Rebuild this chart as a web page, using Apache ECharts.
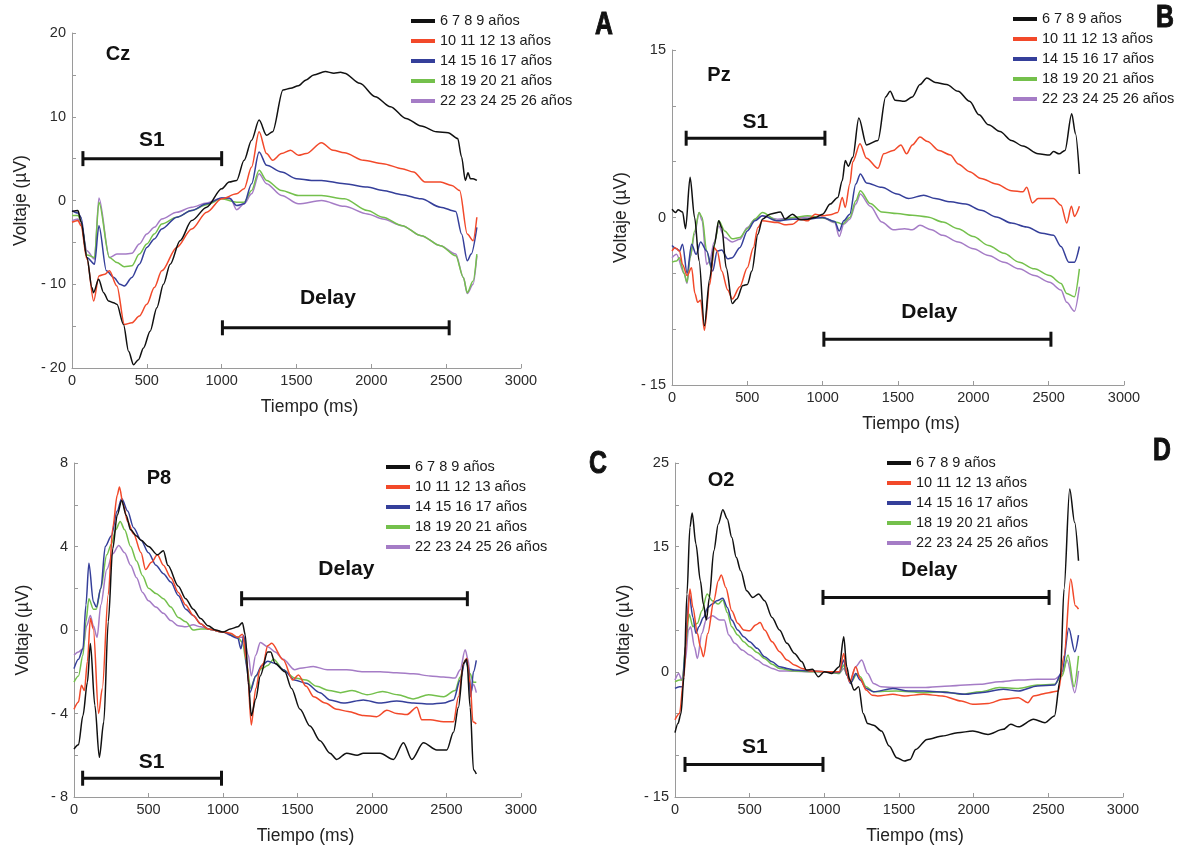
<!DOCTYPE html>
<html>
<head>
<meta charset="utf-8">
<script src="https://cdn.jsdelivr.net/npm/echarts@6/dist/echarts.min.js"></script>
<style>
  html, body { margin: 0; padding: 0; background: #ffffff; }
  #chart { width: 1197px; height: 850px; }
</style>
</head>
<body>
<div id="chart"></div>
<script>
// Age groups (legend order)
const groupNames = ['6 7 8 9 años', '10 11 12 13 años', '14 15 16 17 años', '18 19 20 21 años', '22 23 24 25 26 años'];

// Voltage tick labels shown on each panel (µV)
const czVoltLabels = [-20, -10, 0, 10, 20];
const pzVoltLabels = [-15, 0, 15];
const p8VoltLabels = [-8, -4, 0, 4, 8];
const o2VoltLabels = [-15, 0, 15, 25];

// Grand-average ERPs, [time ms, voltage µV]
// --- Cz ---
const czAge6to9 = [[0,-1.3],[40,-1.2],[60,-2.5],[100,-6.8],[133,-10.4],[144,-11],[178,-9.4],[211,-11],[244,-12],[278,-12.2],[300,-12.4],[344,-14.8],[378,-18],[411,-19.6],[444,-19],[478,-17.6],[522,-15.6],[567,-12.8],[611,-10],[656,-7.6],[722,-4.8],[800,-2.4],[900,-0.8],[1000,1.4],[1050,2.2],[1100,2.4],[1150,4.8],[1200,7.2],[1250,9.6],[1300,7.8],[1340,8.2],[1410,13.2],[1460,13.4],[1513,13.7],[1564,14.4],[1615,15],[1692,15.4],[1750,15.2],[1795,15.3],[1820,15.2],[1923,14],[2026,12.4],[2128,11.2],[2231,9.8],[2333,8.9],[2436,8.2],[2513,8.1],[2577,7.4],[2603,5.2],[2628,2.4],[2646,3.3],[2662,2.6],[2680,2.6],[2705,2.4]];
const czAge10to13 = [[0,-2.6],[40,-2.4],[60,-3],[100,-7],[145,-12],[180,-9],[220,-8.8],[250,-8.4],[300,-10.2],[350,-14.8],[400,-14.6],[450,-13.8],[500,-12.4],[550,-10.4],[600,-8.4],[700,-5.6],[800,-3.4],[900,-1.4],[1000,0.2],[1100,0.8],[1150,1.4],[1200,4],[1250,8.2],[1300,5.6],[1340,4.8],[1400,5.6],[1460,6],[1513,5.4],[1564,5.6],[1667,6.9],[1744,6],[1820,5.7],[1949,4.8],[2077,4.4],[2205,3.8],[2282,3.4],[2359,2.2],[2462,2.2],[2538,1.8],[2590,1.2],[2641,-4],[2680,-4.8],[2705,-2]];
const czAge14to17 = [[0,-1.2],[40,-1.5],[60,-2],[100,-6.8],[150,-7.6],[180,-3],[230,-8.4],[280,-9.2],[320,-10],[350,-10.2],[400,-9.2],[450,-7.6],[500,-5.6],[550,-4.6],[600,-3.4],[700,-2],[800,-1.2],[900,-0.4],[1000,0.3],[1050,0.3],[1100,-0.6],[1150,-0.4],[1200,2],[1250,5.8],[1300,4.2],[1400,3.4],[1500,2.6],[1600,2.4],[1667,2.4],[1820,2],[1974,1.6],[2077,1.2],[2205,0.7],[2333,0.2],[2462,-0.8],[2564,-1.3],[2603,-4],[2641,-7.2],[2667,-6.4],[2705,-3.2]];
const czAge18to21 = [[0,-1.8],[40,-1.8],[60,-2.5],[100,-6.5],[150,-6.8],[180,-0.2],[250,-6.8],[300,-7.4],[350,-7.9],[400,-7.8],[450,-6.4],[500,-5.2],[550,-4],[600,-2.8],[700,-2],[800,-1.2],[900,-0.5],[1000,0.2],[1100,-0.2],[1150,-0.2],[1200,1.2],[1250,3.6],[1300,2.4],[1400,1.2],[1513,0.6],[1667,0.6],[1820,0.2],[1974,-1.2],[2077,-2],[2205,-3],[2333,-4.2],[2462,-5.4],[2564,-6.6],[2615,-9.2],[2641,-11],[2680,-9.6],[2705,-6.4]];
const czAge22to26 = [[0,-2.4],[40,-2.2],[60,-2.8],[100,-6],[150,-7],[180,0.3],[250,-6.8],[300,-6.4],[350,-6.4],[400,-6.3],[450,-5.2],[500,-4],[550,-3.2],[600,-2.2],[700,-1.4],[800,-0.8],[900,-0.3],[1000,0.3],[1060,0.2],[1100,-1.1],[1150,-0.4],[1200,0.8],[1250,3.2],[1300,2],[1400,0.6],[1513,-0.4],[1667,0],[1820,-0.7],[1974,-1.6],[2077,-2.2],[2205,-3],[2333,-4.2],[2462,-5.4],[2564,-6.4],[2615,-9.2],[2641,-11.1],[2680,-10],[2705,-6.6]];

// --- Pz ---
const pzAge6to9 = [[0,0.74],[25,0.45],[40,0.7],[70,0.5],[90,-1],[120,3.6],[150,0],[180,-3.9],[215,-9.7],[250,-5.5],[280,-2.5],[310,-0.3],[330,-0.9],[360,-4.5],[400,-7.7],[430,-7.3],[470,-6.1],[500,-6],[530,-4.8],[570,-1.5],[600,-0.15],[650,0.3],[720,0.5],[750,-0.15],[800,0.3],[850,-0.2],[900,-0.15],[950,0],[1000,0.3],[1050,1.2],[1100,1.8],[1130,3.3],[1150,5.1],[1170,4.6],[1200,5.4],[1240,8.9],[1291,6.5],[1367,6.9],[1418,10.8],[1448,11.3],[1481,10.5],[1544,10.4],[1595,10.8],[1646,11.9],[1691,12.5],[1747,12.1],[1823,11.9],[1899,11.3],[1975,10.4],[2038,9.2],[2101,8.3],[2177,7.7],[2253,6.9],[2329,6.4],[2430,5.7],[2506,5.6],[2532,5.9],[2570,5.7],[2608,6],[2653,9.3],[2678,7.5],[2704,3.9]];
const pzAge10to13 = [[0,-3],[20,-2.7],[50,-3],[70,-4.2],[100,-5.2],[130,-4.5],[152,-6.8],[170,-7.6],[190,-7.4],[215,-10.1],[250,-6],[280,-2.7],[300,-3],[330,-4.8],[370,-6.5],[400,-7.3],[450,-6.2],[500,-4.5],[540,-2.7],[570,-0.9],[600,-0.3],[700,-0.45],[750,-0.65],[800,-0.6],[850,-0.15],[900,-0.3],[950,0.3],[1000,0.15],[1050,0.25],[1100,0.45],[1130,1.8],[1150,0.9],[1180,3],[1200,5],[1248,6.6],[1291,5.3],[1367,4.4],[1405,5.7],[1468,6],[1519,6.5],[1557,5.7],[1595,6.5],[1646,7.2],[1696,6.8],[1772,6],[1848,5.6],[1899,4.8],[1975,4.1],[2051,3.5],[2152,3],[2253,2.4],[2329,2.3],[2354,2.7],[2392,1.3],[2430,1.7],[2532,1.7],[2582,1.1],[2620,-0.5],[2651,1],[2671,0.1],[2704,1]];
const pzAge14to17 = [[0,-2.5],[30,-2.8],[50,-3],[70,-2.4],[100,-5],[130,-2.4],[160,-3.3],[190,-2.2],[230,-3],[270,-4.8],[300,-3],[330,-2.9],[370,-3.7],[400,-3.6],[450,-2.7],[500,-1.2],[550,-0.3],[600,0.15],[700,-0.3],[800,-0.15],[900,-0.15],[1000,0],[1080,-0.35],[1110,-1.2],[1140,-0.3],[1180,0.3],[1220,3],[1250,3.9],[1291,3.1],[1392,2.7],[1494,2.1],[1570,1.7],[1671,2],[1747,1.7],[1848,1.4],[1949,1.2],[2051,0.65],[2152,0.05],[2253,-0.5],[2354,-0.85],[2456,-1.4],[2532,-1.6],[2582,-2.6],[2633,-4],[2671,-4],[2704,-2.6]];
const pzAge18to21 = [[0,-4],[30,-3.9],[50,-3.6],[80,-5],[100,-5.8],[120,-3.6],[150,-1.2],[180,0.45],[200,0],[230,-3],[260,-4.5],[290,-1.9],[310,-0.3],[350,-1.2],[400,-1.9],[450,-1.8],[500,-1],[550,-0.15],[600,0.45],[700,-0.3],[800,0],[900,0.15],[1000,-0.05],[1100,-0.45],[1130,-0.6],[1180,0],[1220,1.5],[1250,2.4],[1316,1.25],[1392,0.5],[1494,0.35],[1595,0.2],[1696,0.05],[1797,-0.4],[1899,-1],[2000,-1.7],[2101,-2.5],[2203,-3.2],[2304,-4],[2405,-4.6],[2506,-5.2],[2582,-5.9],[2620,-6.8],[2671,-7.1],[2704,-4.6]];
const pzAge22to26 = [[0,-3.6],[30,-3.3],[80,-5],[100,-5.9],[120,-3.6],[150,-1.5],[180,0.45],[200,-0.3],[230,-4.2],[250,-3.9],[280,-2.2],[310,-0.75],[350,-1.8],[400,-2.2],[450,-1.95],[500,-0.9],[550,-0.15],[600,0.15],[700,-0.15],[800,-0.05],[900,0.05],[1000,0],[1080,-0.45],[1110,-1.7],[1140,-0.6],[1180,-0.15],[1220,1.2],[1250,2.1],[1316,1],[1392,-0.4],[1468,-1.1],[1544,-1],[1595,-1.1],[1646,-0.7],[1722,-1.1],[1797,-1.6],[1899,-2.2],[2000,-2.8],[2101,-3.4],[2203,-4],[2304,-4.6],[2405,-5.2],[2506,-5.8],[2582,-6.5],[2620,-7.6],[2671,-8.4],[2704,-6.2]];

// --- P8 ---
const p8Age6to9 = [[0,-5.7],[30,-5.5],[60,-4.1],[90,-2.5],[110,-0.65],[140,-3.6],[170,-6.1],[200,-4.4],[230,0.4],[260,3.9],[290,5.5],[320,6.2],[350,5.5],[380,4.8],[420,4.5],[450,4.3],[500,4],[560,3.6],[600,3.8],[630,3.1],[700,2.1],[750,1.5],[800,1],[850,0.55],[900,0.2],[950,0],[1000,-0.1],[1050,0.05],[1100,0.15],[1130,0.35],[1150,-0.25],[1170,-2.5],[1190,-4.1],[1220,-3.3],[1250,-2.2],[1300,-1.05],[1320,-1.05],[1350,-1.6],[1415,-2],[1460,-2.8],[1517,-3.8],[1584,-4.6],[1651,-5.3],[1718,-5.9],[1763,-6.2],[1830,-5.9],[1900,-6],[1942,-5.9],[2054,-5.9],[2144,-6.2],[2211,-5.4],[2267,-6.2],[2345,-5.4],[2435,-5.75],[2502,-5.75],[2547,-4.9],[2580,-3.7],[2614,-1.6],[2636,-1.4],[2659,-3.7],[2681,-6.7],[2700,-6.9]];
const p8Age10to13 = [[0,-3.8],[30,-3.45],[50,-2.65],[70,-2.9],[90,-1.5],[110,0.55],[130,0.05],[165,-4],[190,-2.8],[230,1.7],[260,4.9],[290,6.45],[305,6.85],[330,6],[360,5.2],[400,4.6],[450,3.7],[480,2.9],[520,3.25],[560,3.6],[600,3.1],[650,2.5],[700,1.8],[750,1.2],[800,0.7],[850,0.3],[900,0.05],[1000,-0.1],[1050,-0.15],[1100,-0.35],[1130,-0.2],[1160,-1.5],[1190,-4.55],[1220,-2.8],[1250,-1.85],[1270,-1.6],[1300,-0.75],[1327,-0.64],[1404,-1.43],[1468,-2.4],[1506,-2.15],[1558,-2.7],[1609,-3.2],[1686,-3.5],[1763,-3.8],[1840,-3.9],[1943,-4.1],[2032,-4.15],[2100,-3.85],[2166,-4],[2234,-4.05],[2301,-3.7],[2334,-4.3],[2390,-4.3],[2480,-4.4],[2547,-4.4],[2580,-3.2],[2614,-1.6],[2636,-1.35],[2659,-2.55],[2677,-4.4],[2700,-4.5]];
const p8Age14to17 = [[0,-1.85],[30,-1.4],[60,-0.9],[80,1.2],[100,3.2],[130,1.35],[150,1.1],[180,2],[210,4],[250,4.5],[290,5.7],[320,6.3],[360,5.7],[400,4.9],[450,4.3],[500,3.7],[550,3.1],[600,2.7],[650,2.3],[700,1.65],[750,1],[800,0.7],[850,0.3],[900,0.05],[1000,-0.1],[1100,-0.4],[1120,-0.9],[1140,-0.25],[1160,-1.85],[1180,-3],[1220,-2.2],[1260,-1.7],[1300,-1.5],[1350,-1.6],[1404,-1.9],[1481,-2.4],[1558,-2.55],[1651,-3],[1718,-3.35],[1808,-3.5],[1942,-3.35],[2054,-3.5],[2166,-3.4],[2278,-3.5],[2390,-3.55],[2480,-3.5],[2547,-3.35],[2592,-2.4],[2625,-1.45],[2648,-1.75],[2662,-3.2],[2681,-2],[2700,-1.45]];
const p8Age18to21 = [[0,-2.5],[30,-2.2],[60,-1.2],[80,0.4],[100,1.5],[130,1],[150,1],[180,2],[220,3.6],[250,4.1],[280,4.8],[310,5.2],[340,4.8],[380,4],[420,3.3],[460,2.6],[500,2],[550,1.75],[600,1.5],[650,1.1],[700,0.6],[750,0.4],[800,0],[850,0.05],[900,0.05],[1000,-0.1],[1100,-0.35],[1130,-0.6],[1160,-1.7],[1185,-2.8],[1220,-2.2],[1260,-1.85],[1300,-1.7],[1340,-1.4],[1404,-1.9],[1481,-2.3],[1558,-2.4],[1629,-2.7],[1712,-2.9],[1789,-3],[1866,-2.9],[1968,-3.1],[2071,-2.95],[2173,-3.1],[2276,-3.3],[2379,-3.1],[2481,-3.2],[2558,-2.9],[2592,-2.25],[2625,-1.45],[2659,-2.1],[2681,-2.5],[2700,-2.5]];
const p8Age22to26 = [[0,-1.2],[30,-1.05],[60,-0.9],[85,0.2],[110,0.7],[130,0.2],[155,-0.35],[180,1.2],[220,2.9],[260,3.65],[300,4.05],[340,3.7],[380,3.1],[420,2.5],[460,1.8],[500,1.4],[550,1.1],[600,0.8],[650,0.45],[700,0.2],[750,0.15],[800,0.25],[850,0.15],[900,0.05],[1000,-0.1],[1050,-0.25],[1100,-0.35],[1140,-0.35],[1170,-1.2],[1190,-2.2],[1220,-1.2],[1250,-0.6],[1300,-0.8],[1350,-1.05],[1404,-1.4],[1481,-1.9],[1517,-1.83],[1606,-1.75],[1700,-1.9],[1830,-1.9],[1942,-2],[2054,-2],[2166,-2.05],[2278,-2.1],[2390,-2.2],[2480,-2.25],[2558,-2.3],[2592,-1.9],[2625,-0.95],[2648,-1.5],[2662,-3],[2681,-2.6],[2700,-3]];

// --- O2 ---
const o2Age6to9 = [[0,-7.3],[20,-6.2],[40,-5],[60,-0.6],[80,9.3],[100,17.3],[115,19],[140,15.3],[170,10.9],[190,8.1],[210,6.2],[230,8.9],[260,14.5],[290,17.7],[320,19.4],[350,18.3],[380,16.1],[410,13.7],[440,12.1],[480,9.7],[520,8.9],[560,9.3],[600,8.5],[650,6.5],[700,5],[750,3.4],[800,2.2],[850,1.2],[880,0.2],[920,0.3],[960,-0.6],[1000,0],[1050,-0.2],[1100,0.6],[1130,4.2],[1150,0.6],[1170,-1],[1200,-2.2],[1230,-1.8],[1260,-5],[1290,-6.2],[1330,-6.4],[1383,-7.1],[1434,-8.9],[1485,-10.3],[1536,-10.7],[1574,-10.5],[1612,-9.3],[1688,-8.1],[1790,-7.7],[1892,-7.3],[1994,-7.1],[2096,-7.5],[2198,-6.9],[2248,-6.3],[2300,-6.6],[2401,-5.7],[2478,-6.1],[2541,-5.3],[2580,-0.9],[2605,9.9],[2643,21.9],[2676,17.9],[2702,13.3]];
const o2Age10to13 = [[0,-5.75],[30,-5],[60,-0.6],[80,5.4],[100,9.9],[120,7.7],[150,4.6],[170,3],[190,1.8],[220,4.6],[260,8.5],[290,10.9],[310,11.6],[340,10.1],[380,7.3],[420,5.8],[460,5],[500,4.9],[540,5.6],[570,5.9],[600,5],[650,3.6],[700,2.4],[750,1.4],[800,0.8],[850,0.4],[900,0.1],[1000,0],[1100,0],[1130,2.2],[1150,-0.2],[1170,-1.2],[1210,0.6],[1240,-0.8],[1280,-2.2],[1320,-2.8],[1357,-2.9],[1459,-2.7],[1536,-2.9],[1663,-2.7],[1790,-2.9],[1917,-3.5],[1994,-3.9],[2096,-3.8],[2198,-3.3],[2299,-3.1],[2363,-3.7],[2401,-2.9],[2503,-2.5],[2567,-2.3],[2605,1.9],[2650,11.1],[2681,7.9],[2702,7.5]];
const o2Age14to17 = [[0,-2],[30,-1.8],[50,-1.8],[70,3],[95,9.3],[120,6.5],[140,4.6],[160,5.4],[190,6.5],[220,7.7],[250,8.1],[280,8.5],[320,8.8],[350,7.7],[380,6.2],[420,5],[460,4.2],[500,3.6],[550,2.8],[600,1.8],[650,1.2],[700,0.6],[750,0.4],[800,0.2],[900,0.1],[1000,0],[1100,-0.1],[1130,1.4],[1150,-0.4],[1175,-1.4],[1210,-0.2],[1240,-1],[1280,-2],[1330,-2.4],[1459,-2],[1563,-2.3],[1663,-2.3],[1841,-2.5],[1943,-2.7],[2045,-2.5],[2198,-2.1],[2299,-2.3],[2427,-1.7],[2541,-1.6],[2592,0],[2637,5.2],[2677,2.4],[2702,4.4]];
const o2Age18to21 = [[0,-1.2],[30,-1],[50,-1],[70,3],[95,6.9],[120,5.4],[150,5.8],[180,7.3],[215,9.3],[250,8.5],[290,8.1],[320,8.6],[350,7.1],[380,5.4],[420,4.4],[460,3.6],[500,3],[550,2.3],[600,1.6],[650,0.9],[700,0.4],[800,0.1],[900,0],[1000,0],[1100,-0.2],[1130,0.8],[1150,-0.4],[1180,-1.2],[1220,-0.2],[1240,-0.6],[1280,-1.8],[1330,-2.4],[1480,-2.3],[1663,-2.5],[1800,-2.4],[1917,-2.7],[2045,-2.4],[2172,-1.9],[2299,-2],[2427,-1.6],[2541,-1.5],[2592,-0.5],[2632,2],[2672,-1.8],[2702,1.9]];
const o2Age22to26 = [[0,-1],[25,-0.2],[45,-1],[70,1.4],[90,5],[105,5.4],[130,3],[150,1.6],[180,4.6],[210,6.3],[250,6.7],[300,6.2],[330,6.2],[360,4.4],[400,3.4],[450,2.6],[500,2],[550,1.4],[600,0.8],[650,0.4],[700,0.1],[800,0.05],[900,0],[1000,0],[1100,-0.2],[1130,0.4],[1150,-0.2],[1175,-1],[1210,0.6],[1250,1.4],[1290,-0.2],[1330,-1.4],[1380,-1.8],[1485,-1.9],[1663,-1.9],[1841,-1.7],[2045,-1.5],[2172,-1.2],[2299,-1],[2427,-0.9],[2541,-0.9],[2592,-0.3],[2625,1.4],[2677,-2.5],[2702,0.1]];

// Task epochs, [start ms, end ms]
const czS1 = [73, 1000];   const czDelay = [1005, 2520];
const pzS1 = [94, 1015];   const pzDelay = [1008, 2515];
const p8S1 = [58, 990];    const p8Delay = [1125, 2640];
const o2S1 = [67, 991];    const o2Delay = [991, 2505];

// ---------- layout & styling ----------
const FONT = '"Liberation Sans", Arial, Helvetica, sans-serif';
const groupColors = ['#111111', '#f2492a', '#353f9a', '#74c04c', '#a57cc6'];

const panels = [
  { electrode: 'Cz', letter: 'A', series: [czAge6to9, czAge10to13, czAge14to17, czAge18to21, czAge22to26],
    labels: czVoltLabels, yMin: -20, yMax: 20, yStep: 5,
    grid: { left: 72, top: 33, width: 449, height: 335 },
    s1: czS1, s1Level: 5, s1Text: [534, 7.2],
    delay: czDelay, delayLevel: -15.2, delayText: [1710, -11.7],
    legend: { left: 411, top: 13 }, xNameShift: 13,
    electrodePos: [118, 54], letterPos: [604, 25] },
  { electrode: 'Pz', letter: 'B', series: [pzAge6to9, pzAge10to13, pzAge14to17, pzAge18to21, pzAge22to26],
    labels: pzVoltLabels, yMin: -15, yMax: 15, yStep: 5,
    grid: { left: 672, top: 50, width: 452, height: 335 },
    s1: pzS1, s1Level: 7.1, s1Text: [553, 8.57],
    delay: pzDelay, delayLevel: -10.9, delayText: [1708, -8.44],
    legend: { left: 1013, top: 11 }, xNameShift: 13,
    electrodePos: [719, 75], letterPos: [1165, 18] },
  { electrode: 'P8', letter: 'C', series: [p8Age6to9, p8Age10to13, p8Age14to17, p8Age18to21, p8Age22to26],
    labels: p8VoltLabels, yMin: -8, yMax: 8, yStep: 2,
    grid: { left: 74, top: 463, width: 447, height: 334 },
    s1: p8S1, s1Level: -7.1, s1Text: [521, -6.35],
    delay: p8Delay, delayLevel: 1.5, delayText: [1828, 2.9],
    legend: { left: 386, top: 459 }, xNameShift: 8,
    electrodePos: [159, 478], letterPos: [598, 464] },
  { electrode: 'O2', letter: 'D', series: [o2Age6to9, o2Age10to13, o2Age14to17, o2Age18to21, o2Age22to26],
    labels: o2VoltLabels, yMin: -15, yMax: 25, yStep: 5,
    grid: { left: 675, top: 463, width: 448, height: 334 },
    s1: o2S1, s1Level: -11.1, s1Text: [534, -9.08],
    delay: o2Delay, delayLevel: 8.9, delayText: [1703, 12.2],
    legend: { left: 887, top: 455 }, xNameShift: 16,
    electrodePos: [721, 480], letterPos: [1162, 451] }
];

function voltLabel(v) {
  return v < 0 ? '- ' + Math.abs(v) : String(v);
}

// Horizontal bracket (bar with end caps) plus its caption
function epochSeries(idx, span, level, textAt, text) {
  return {
    type: 'custom', xAxisIndex: idx, yAxisIndex: idx, silent: true, z: 6, clip: false,
    encode: { x: [0, 1], y: 2 },
    data: [[span[0], span[1], level]],
    renderItem: function (params, api) {
      const a = api.coord([api.value(0), api.value(2)]);
      const b = api.coord([api.value(1), api.value(2)]);
      const c = api.coord(textAt);
      const st = { stroke: '#111111', lineWidth: 3, lineCap: 'butt' };
      const cap = 7.5;
      return { type: 'group', children: [
        { type: 'line', shape: { x1: a[0], y1: a[1], x2: b[0], y2: b[1] }, style: st },
        { type: 'line', shape: { x1: a[0], y1: a[1] - cap, x2: a[0], y2: a[1] + cap }, style: st },
        { type: 'line', shape: { x1: b[0], y1: b[1] - cap, x2: b[0], y2: b[1] + cap }, style: st },
        { type: 'text', x: c[0], y: c[1], style: { text: text, align: 'center', verticalAlign: 'middle',
          font: 'bold 21px ' + FONT, fill: '#111111' } }
      ] };
    }
  };
}

const option = {
  animation: false,
  backgroundColor: '#ffffff',
  grid: [], xAxis: [], yAxis: [], legend: [], series: [], graphic: []
};

panels.forEach(function (p, i) {
  option.grid.push(Object.assign({ containLabel: false }, p.grid));
  option.xAxis.push({
    type: 'value', gridIndex: i, min: 0, max: 3000, interval: 500,
    name: 'Tiempo (ms)', nameLocation: 'middle', nameGap: 30,
    nameTextStyle: { fontFamily: FONT, fontSize: 17.5, color: '#222222', padding: [0, 0, 0, 2 * p.xNameShift] },
    axisLine: { show: true, onZero: false, lineStyle: { color: '#9a9a9a', width: 1 } },
    axisTick: { show: true, inside: true, length: 4, lineStyle: { color: '#9a9a9a' } },
    axisLabel: { fontFamily: FONT, fontSize: 14.5, color: '#2a2a2a', margin: 5,
      formatter: function (v) { return String(v); } },
    splitLine: { show: false }
  });
  option.yAxis.push({
    type: 'value', gridIndex: i, min: p.yMin, max: p.yMax, interval: p.yStep,
    name: 'Voltaje (µV)', nameLocation: 'middle', nameGap: 42,
    nameTextStyle: { fontFamily: FONT, fontSize: 17.5, color: '#222222' },
    axisLine: { show: true, onZero: false, lineStyle: { color: '#9a9a9a', width: 1 } },
    axisTick: { show: true, inside: true, length: 4, lineStyle: { color: '#9a9a9a' } },
    axisLabel: { fontFamily: FONT, fontSize: 14.5, color: '#2a2a2a', margin: 6,
      formatter: function (v) { return p.labels.indexOf(v) >= 0 ? voltLabel(v) : ''; } },
    splitLine: { show: false }
  });
  option.legend.push({
    data: groupNames, orient: 'vertical', left: p.legend.left, top: p.legend.top,
    icon: 'rect', itemWidth: 24, itemHeight: 4, itemGap: 4, padding: 0,
    selectedMode: false,
    textStyle: { fontFamily: FONT, fontSize: 14.5, color: '#1a1a1a', lineHeight: 16 }
  });
  p.series.forEach(function (d, g) {
    option.series.push({
      type: 'line', name: groupNames[g], xAxisIndex: i, yAxisIndex: i,
      data: d, showSymbol: false, symbol: 'none', smooth: 0.3, smoothMonotone: 'x',
      lineStyle: { color: groupColors[g], width: 1.5 }, itemStyle: { color: groupColors[g] },
      z: 3 + (4 - g) * 0.1
    });
  });
  option.series.push(epochSeries(i, p.s1, p.s1Level, p.s1Text, 'S1'));
  option.series.push(epochSeries(i, p.delay, p.delayLevel, p.delayText, 'Delay'));
  option.graphic.push({
    type: 'text', x: p.electrodePos[0], y: p.electrodePos[1],
    style: { text: p.electrode, align: 'center', verticalAlign: 'middle', font: 'bold 20px ' + FONT, fill: '#111111' }
  });
  option.graphic.push({
    type: 'text', x: p.letterPos[0], y: p.letterPos[1], scaleX: 0.8,
    style: { text: p.letter, align: 'center', verticalAlign: 'middle',
      font: 'bold 31px ' + FONT, fill: '#111111', stroke: '#111111', lineWidth: 1 }
  });
});

const chart = echarts.init(document.getElementById('chart'), null, { renderer: 'canvas' });
chart.setOption(option);
</script>
</body>
</html>
